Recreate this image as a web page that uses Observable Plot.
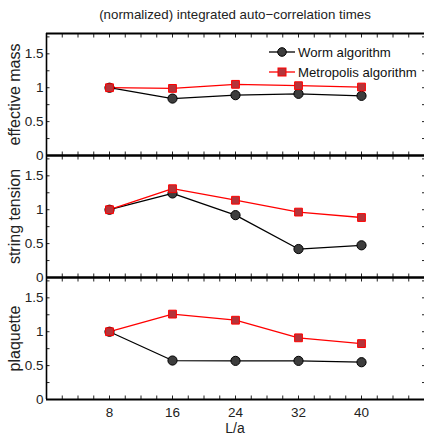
<!DOCTYPE html>
<html>
<head>
<meta charset="utf-8">
<script src="https://cdn.jsdelivr.net/npm/d3@7"></script>
<script src="https://cdn.jsdelivr.net/npm/@observablehq/plot@0.6"></script>
<style>
  body { margin: 0; background: white; }
  #wrap { position: relative; width: 424px; height: 437px; font-family: "Liberation Sans", Arial, sans-serif; }
  #title { position: absolute; left: 46px; width: 378px; top: 7px; text-align: center; font-size: 13.3px; color: #222; }
  #xlabel { position: absolute; left: 46px; width: 378px; top: 421px; line-height: 15px; text-align: center; font-size: 14px; color: #222; }
  #legend { position: absolute; left: 268px; top: 42px; font-size: 13.2px; color: #111; white-space: nowrap; }
  #legend div { display: flex; align-items: center; height: 20px; }
  #legend svg { margin-right: 2px; }
  #chart { position: absolute; left: 0; top: 0; }
</style>
</head>
<body>
<div id="wrap">
  <div id="chart"></div>
  <div id="title">(normalized) integrated auto−correlation times</div>
  <div id="xlabel">L/a</div>
  <div id="legend"></div>
</div>
<script>
const L = [8, 16, 24, 32, 40];
const panels = ["effective mass", "string tension", "plaquette"];
const algorithms = ["Worm algorithm", "Metropolis algorithm"];
const wormMass = [1.0, 0.84, 0.89, 0.91, 0.88];
const metroMass = [1.0, 0.99, 1.05, 1.03, 1.01];
const wormString = [1.0, 1.24, 0.92, 0.42, 0.475];
const metroString = [1.0, 1.31, 1.14, 0.965, 0.885];
const wormPlaq = [1.0, 0.575, 0.57, 0.57, 0.55];
const metroPlaq = [1.0, 1.26, 1.17, 0.91, 0.825];
const yTickLabels = [0, 0.5, 1, 1.5];

const series = [
  [panels[0], algorithms[0], wormMass], [panels[0], algorithms[1], metroMass],
  [panels[1], algorithms[0], wormString], [panels[1], algorithms[1], metroString],
  [panels[2], algorithms[0], wormPlaq], [panels[2], algorithms[1], metroPlaq]
];
const rows = series.flatMap(([panel, algo, vals]) => vals.map((v, i) => ({panel, algo, L: L[i], value: v})));
const worm = rows.filter(d => d.algo === algorithms[0]);
const metro = rows.filter(d => d.algo === algorithms[1]);
const labelRows = panels.map(p => ({panel: p}));

const WORM_FILL = "#3d3d3d", WORM_STROKE = "#000";
const METRO_FILL = "#b5343a", METRO_STROKE = "#f00";

const chart = Plot.plot({
  width: 424, height: 437,
  marginTop: 33, marginBottom: 38, marginLeft: 46, marginRight: 0,
  x: {domain: [0, 48]},
  y: {domain: [0, 1.8]},
  fy: {domain: panels, padding: 0, axis: null},
  style: {fontFamily: "'Liberation Sans', Arial, sans-serif", fontSize: "13px", color: "#222", background: "white"},
  marks: [
    Plot.axisY({ticks: yTickLabels, tickFormat: d => String(d), tickSize: 0, tickPadding: 3, label: null, fontSize: 13.5}),
    Plot.axisY({anchor: "left", ticks: d3.range(0, 1.8, 0.25), tickSize: -3.5, tickFormat: () => "", label: null}),
    Plot.axisY({anchor: "right", ticks: d3.range(0, 1.8, 0.25), tickSize: -3, tickFormat: () => "", label: null}),
    Plot.axisX({anchor: "bottom", ticks: L, tickSize: 0, tickPadding: 8, label: null, fontSize: 13.5}),
    Plot.axisX({anchor: "bottom", ticks: d3.range(0, 49, 2), tickSize: -3.5, tickFormat: () => "", label: null, facetAnchor: null}),
    Plot.axisX({anchor: "top", ticks: d3.range(0, 49, 2), tickSize: -3.5, tickFormat: () => "", label: null, facetAnchor: null}),
    Plot.ruleY([0], {stroke: "#000", strokeWidth: 2}),
    Plot.ruleY([1.8], {stroke: "#000", strokeWidth: 2}),
    Plot.ruleX([0], {stroke: "#000", strokeWidth: 1.6}),
    Plot.text(labelRows, {fy: "panel", text: "panel", frameAnchor: "left", textAnchor: "middle", dx: -32, rotate: -90, fontSize: 16, fill: "#222"}),
    Plot.line(worm, {x: "L", y: "value", fy: "panel", stroke: WORM_STROKE, strokeWidth: 1.3}),
    Plot.line(metro, {x: "L", y: "value", fy: "panel", stroke: METRO_STROKE, strokeWidth: 1.3}),
    Plot.dot(worm, {x: "L", y: "value", fy: "panel", r: 4.6, fill: WORM_FILL, stroke: WORM_STROKE, strokeWidth: 1}),
    Plot.dot(metro, {x: "L", y: "value", fy: "panel", symbol: "square", r: 4.4, fill: METRO_FILL, stroke: METRO_STROKE, strokeWidth: 1})
  ]
});
document.getElementById("chart").appendChild(chart);

const legend = document.getElementById("legend");
const wormSym = `<svg width="28" height="12"><line x1="1" x2="27" y1="6" y2="6" stroke="${WORM_STROKE}" stroke-width="1.3"/><circle cx="14" cy="6" r="4.3" fill="${WORM_FILL}" stroke="${WORM_STROKE}"/></svg>`;
const metroSym = `<svg width="28" height="12"><line x1="1" x2="27" y1="6" y2="6" stroke="${METRO_STROKE}" stroke-width="1.3"/><rect x="10" y="2" width="8" height="8" fill="${METRO_FILL}" stroke="${METRO_STROKE}"/></svg>`;
legend.innerHTML = `<div>${wormSym}<span>${algorithms[0]}</span></div><div>${metroSym}<span>${algorithms[1]}</span></div>`;
</script>
</body>
</html>
